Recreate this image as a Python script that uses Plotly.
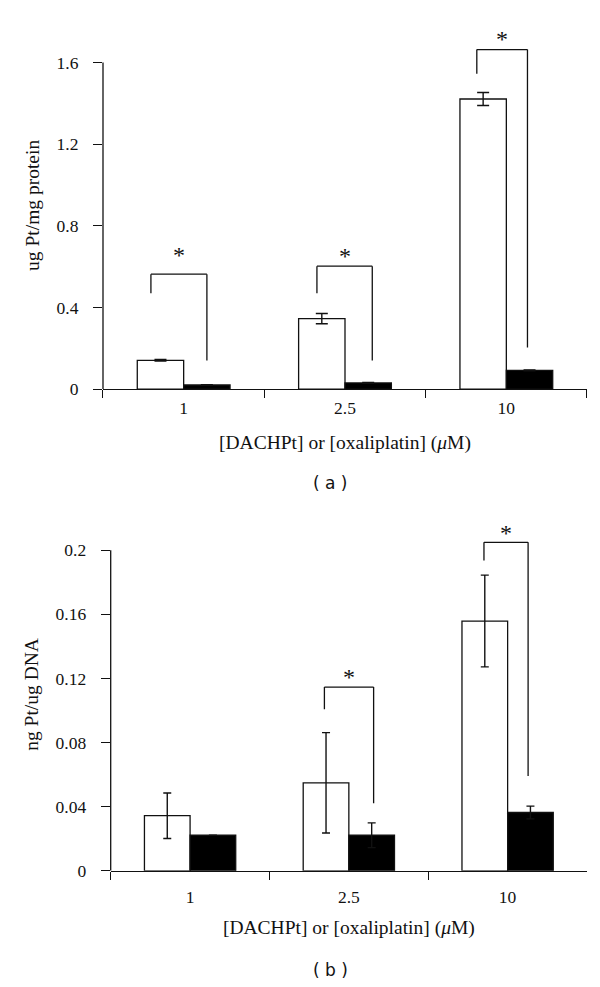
import plotly.graph_objects as go

# ---------------- data ----------------
categories = ["1", "2.5", "10"]

# panel (a): ug Pt / mg protein
a_dachpt = [0.141, 0.345, 1.421]
a_dachpt_err = [0.004, 0.025, 0.032]
a_oxali = [0.020, 0.030, 0.092]
a_oxali_err = [0.002, 0.002, 0.002]
a_ticks = [0, 0.4, 0.8, 1.2, 1.6]
a_ticktext = ["0", "0.4", "0.8", "1.2", "1.6"]

# panel (b): ng Pt / ug DNA
b_dachpt = [0.0344, 0.0549, 0.1558]
b_dachpt_err = [0.0142, 0.0313, 0.0286]
b_oxali = [0.0222, 0.0222, 0.0364]
b_oxali_err = [0.0, 0.0077, 0.0040]
b_ticks = [0, 0.04, 0.08, 0.12, 0.16, 0.2]
b_ticktext = ["0", "0.04", "0.08", "0.12", "0.16", "0.2"]

# significance brackets (category index units, data units)
a_br_left = [-0.203, 0.826, 1.817]
a_br_right = [0.144, 1.169, 2.131]
a_br_top = [0.563, 0.602, 1.663]
a_br_left_bottom = [0.47, 0.47, 1.545]
a_br_right_bottom = [0.14, 0.14, 0.204]

b_br_left = [0.846, 1.851]
b_br_right = [1.156, 2.129]
b_br_top = [0.1146, 0.2049]
b_br_left_bottom = [0.1008, 0.1935]
b_br_right_bottom = [0.0422, 0.0591]

SERIF = "Liberation Serif"
INK = "#111111"
LW = 1.3

fig = go.Figure()

def add_bars(xa, ya, white, white_err, black, black_err, capw):
    fig.add_trace(go.Bar(
        x=categories, y=white, xaxis=xa, yaxis=ya,
        marker=dict(color="white", line=dict(color=INK, width=LW)),
        error_y=dict(type="data", array=white_err, visible=True,
                     color=INK, thickness=1.4, width=capw),
        showlegend=False, name="DACHPt"))
    fig.add_trace(go.Bar(
        x=categories, y=black, xaxis=xa, yaxis=ya,
        marker=dict(color="black", line=dict(color=INK, width=LW)),
        error_y=dict(type="data", array=black_err, visible=True,
                     color=INK, thickness=1.4, width=capw),
        showlegend=False, name="oxaliplatin"))

add_bars("x", "y", a_dachpt, a_dachpt_err, a_oxali, a_oxali_err, 6)
add_bars("x2", "y2", b_dachpt, b_dachpt_err, b_oxali, b_oxali_err, 4)

xtitle = "[DACHPt] or [oxaliplatin] (<i>μ</i>M)"
tickfont = dict(family=SERIF, size=17.5, color=INK)
titlefont = dict(family=SERIF, size=19.5, color=INK)

def xaxis_cfg(domain, anchor, lab_standoff, title_standoff):
    return dict(domain=domain, anchor=anchor, type="category",
                tickson="boundaries", ticks="outside", ticklen=8,
                tickwidth=LW, tickcolor=INK, showline=True, linecolor=INK,
                linewidth=LW, showgrid=False, zeroline=False, tickfont=tickfont,
                ticklabelstandoff=lab_standoff,
                title=dict(text=xtitle, font=titlefont, standoff=title_standoff))

def yaxis_cfg(domain, anchor, rng, tv, tt, title):
    return dict(domain=domain, anchor=anchor, range=rng, tickvals=tv, ticktext=tt,
                ticks="outside", ticklen=9, tickwidth=LW, tickcolor=INK,
                showline=False, showgrid=False, zeroline=False, tickfont=tickfont,
                ticklabelstandoff=11,
                title=dict(text=title, font=titlefont, standoff=11))

fig.update_layout(
    width=600, height=987,
    margin=dict(l=0, r=0, t=0, b=0),
    paper_bgcolor="white", plot_bgcolor="white",
    barmode="group", bargap=0.425, bargroupgap=0,
    xaxis=xaxis_cfg([0.15833, 0.965], "y", 3, 18),
    yaxis=yaxis_cfg([0.60993, 0.98607], "x", [0, 1.8], a_ticks, a_ticktext,
                    "ug Pt/mg protein"),
    xaxis2=xaxis_cfg([0.17117, 0.965], "y2", 10, 14),
    yaxis2=yaxis_cfg([0.11682, 0.47791], "x2", [0, 0.22], b_ticks, b_ticktext,
                     "ng Pt/ug DNA"),
)

def add_brackets(xr, yr, L, R, T, LB, RB, star_shift):
    for l, r, t, lb, rb, sh in zip(L, R, T, LB, RB, star_shift):
        line = dict(color=INK, width=LW)
        fig.add_shape(type="line", xref=xr, yref=yr, x0=l, x1=l, y0=lb, y1=t, line=line)
        fig.add_shape(type="line", xref=xr, yref=yr, x0=l, x1=r, y0=t, y1=t, line=line)
        fig.add_shape(type="line", xref=xr, yref=yr, x0=r, x1=r, y0=t, y1=rb, line=line)
        fig.add_annotation(xref=xr, yref=yr, x=(l + r) / 2, y=t, text="*",
                           showarrow=False, yanchor="bottom", yshift=sh,
                           font=dict(family=SERIF, size=24, color=INK))

add_brackets("x", "y", a_br_left, a_br_right, a_br_top,
             a_br_left_bottom, a_br_right_bottom, [4, -5, -4])
add_brackets("x2", "y2", b_br_left, b_br_right, b_br_top,
             b_br_left_bottom, b_br_right_bottom, [-5, -6])

# y axis lines only up to the top tick
fig.add_shape(type="line", xref="x domain", yref="y", x0=0, x1=0,
              y0=0, y1=a_ticks[-1], line=dict(color=INK, width=LW))
fig.add_shape(type="line", xref="x2 domain", yref="y2", x0=0, x1=0,
              y0=0, y1=b_ticks[-1], line=dict(color=INK, width=LW))

fig.add_annotation(text="( a )", xref="paper", yref="paper", x=0.538, y=0.5137,
                   xanchor="center", yanchor="middle", showarrow=False,
                   font=dict(family="DejaVu Sans", size=17, color=INK))
fig.add_annotation(text="( b )", xref="paper", yref="paper", x=0.538, y=0.0152,
                   xanchor="center", yanchor="middle", showarrow=False,
                   font=dict(family="DejaVu Sans", size=17, color=INK))

fig.write_html("out.html")
